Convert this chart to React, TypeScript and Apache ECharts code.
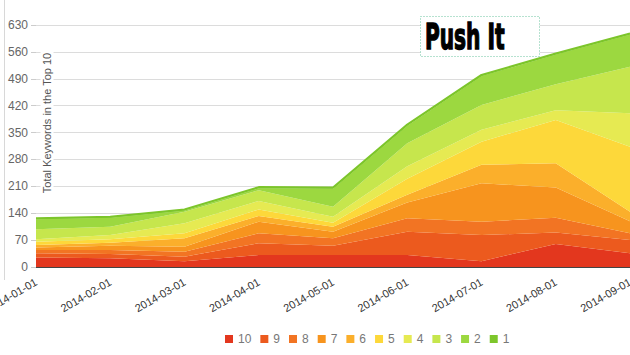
import React, { useEffect, useRef } from "react";
import * as echarts from "echarts";

const categories = [
  "2014-01-01", "2014-02-01", "2014-03-01", "2014-04-01", "2014-05-01",
  "2014-06-01", "2014-07-01", "2014-08-01", "2014-09-01",
];

const seriesNames = ["10", "9", "8", "7", "6", "5", "4", "3", "2", "1"];

const s10 = [25, 23, 15, 31, 31, 31, 15, 60, 36];
const s9 = [11, 11, 12, 31, 24, 61, 68, 30, 34];
const s8 = [8, 10, 13, 26, 20, 35, 35, 38, 18];
const s7 = [7, 11, 13, 30, 17, 41, 100, 79, 31];
const s6 = [6, 8, 22, 15, 13, 20, 48, 63, 25];
const s5 = [9, 9, 13, 17, 10, 42, 60, 113, 169];
const s4 = [6, 11, 26, 22, 16, 32, 31, 25, 87];
const s3 = [26, 22, 30, 28, 26, 60, 65, 68, 121];
const s2 = [26, 23, 3, 5, 47, 46, 75, 77, 84];
const s1 = [3, 3, 3, 3, 3, 3, 3, 3, 3];

const seriesValues = [s10, s9, s8, s7, s6, s5, s4, s3, s2, s1];

const colors = [
  "#E3371E", "#EC5A1E", "#F27423", "#F7941E", "#FBAF2B",
  "#FDD83A", "#E6EA52", "#C6E64D", "#9CD840", "#7DC62B",
];

const yMax = 630;
const yInterval = 70;

export default function App() {
  const ref = useRef<HTMLDivElement>(null);
  useEffect(() => {
    if (!ref.current) return;
    const chart = echarts.init(ref.current, null, { renderer: "svg" });
    const series = seriesNames.map((name, i) => ({
      name,
      type: "line" as const,
      stack: "total",
      data: seriesValues[i],
      symbol: "none",
      showSymbol: false,
      smooth: false,
      itemStyle: { color: colors[i] },
      lineStyle: i === seriesNames.length - 1
        ? { width: 2, color: "#7CC52A" }
        : { width: 0, color: colors[i] },
      areaStyle: { color: colors[i], opacity: 1 },
      emphasis: { disabled: true },
      z: 2,
    }));
    chart.setOption({
      animation: false,
      backgroundColor: "#ffffff",
      grid: {
        left: 36, right: 0, top: 25, bottom: 88,
        containLabel: false,
        outerBoundsMode: "none",
      },
      xAxis: {
        type: "category",
        data: categories,
        boundaryGap: false,
        axisLine: { show: true, lineStyle: { color: "#444", width: 1 } },
        axisTick: { show: false },
        axisLabel: {
          rotate: 30,
          fontSize: 11,
          color: "#333",
          margin: 14,
          interval: 0,
          hideOverlap: false,
          fontFamily: "Liberation Sans, Arial, sans-serif",
        },
        splitLine: { show: false },
      },
      yAxis: {
        type: "value",
        min: 0,
        max: yMax,
        interval: yInterval,
        axisLine: { show: false },
        axisTick: { show: true, length: 5, lineStyle: { color: "#ccc" } },
        axisLabel: {
          fontSize: 12,
          color: "#666",
          margin: 8,
          fontFamily: "Liberation Sans, Arial, sans-serif",
        },
        splitLine: { show: true, lineStyle: { color: "#dcdcdc", width: 1 } },
      },
      legend: {
        data: seriesNames,
        left: 220,
        top: 328,
        icon: "rect",
        itemWidth: 8,
        itemHeight: 8,
        itemGap: 9,
        textStyle: {
          fontSize: 12,
          color: "#777",
          fontFamily: "Liberation Sans, Arial, sans-serif",
        },
      },
      graphic: [
        {
          type: "line",
          shape: { x1: 4.5, y1: 0, x2: 4.5, y2: 280 },
          style: { stroke: "#d8d8d8", lineWidth: 1 },
          silent: true,
        },
        {
          type: "text",
          x: 47,
          y: 123,
          rotation: Math.PI / 2,
          z: 10,
          style: {
            text: "Total Keywords in the Top 10",
            fontSize: 11,
            fill: "#555",
            align: "center",
            verticalAlign: "middle",
            fontFamily: "Liberation Sans, Arial, sans-serif",
            backgroundColor: "#fff",
            padding: [1, 2],
          },
          silent: true,
        },
        {
          type: "rect",
          shape: { x: 420.5, y: 16.5, width: 119, height: 40 },
          style: { fill: "#fff", stroke: "#6cc4a0", lineWidth: 1, lineDash: [1, 2] },
          z: 10,
          silent: true,
        },
        {
          type: "text",
          x: 425,
          y: 36.5,
          scaleX: 0.56,
          z: 11,
          style: {
            text: "Push It",
            fontSize: 36,
            fontWeight: "bold",
            fill: "#000",
            stroke: "#000",
            lineWidth: 1.5,
            align: "left",
            verticalAlign: "middle",
            fontFamily: "DejaVu Sans, sans-serif",
          },
          silent: true,
        },
      ],
      series,
    });
    return () => chart.dispose();
  }, []);
  return (
    <div
      ref={ref}
      style={{ position: "fixed", left: 0, top: 0, width: 630, height: 355 }}
    />
  );
}
